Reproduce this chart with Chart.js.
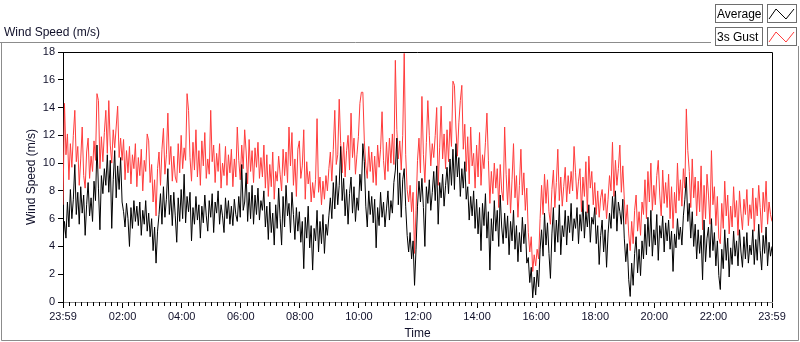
<!DOCTYPE html>
<html><head><meta charset="utf-8">
<script src="https://cdn.jsdelivr.net/npm/chart.js@4.4.0/dist/chart.umd.min.js"></script>
<style>html,body{margin:0;padding:0;background:#fff;overflow:hidden}canvas{display:block}</style>
</head><body>
<canvas id="c" width="800" height="342"></canvas>
<script>
// sampling interval of the series (minutes after 23:59)
const STEP_MIN = 3;

const average = [
4.3,5.8,4.6,7.2,5.4,8.1,6.0,7.4,9.9,6.3,
7.9,5.6,8.3,6.4,7.7,4.8,7.0,8.6,6.2,7.5,
5.8,8.7,7.3,11.3,8.2,5.2,9.1,7.8,9.6,8.4,
10.6,7.9,10.2,5.3,8.8,10.9,7.5,9.8,8.1,10.4,
7.2,6.5,5.4,7.1,6.0,4.0,6.8,5.3,7.3,5.8,
6.9,5.5,7.2,4.8,6.6,5.6,7.3,5.1,6.4,4.7,
6.0,3.7,5.4,2.8,5.1,6.3,7.8,5.6,8.3,6.1,
7.4,9.6,6.3,7.7,5.5,7.9,6.2,4.3,7.5,5.8,
8.1,6.0,9.2,5.7,7.6,6.5,7.9,4.4,6.8,5.6,
7.6,5.9,7.0,4.6,6.9,5.7,7.7,6.2,5.1,7.3,
6.1,7.8,5.0,7.2,6.4,8.0,5.6,7.0,6.2,5.0,
7.5,6.0,7.3,5.6,6.9,5.5,7.4,6.3,5.8,7.6,
6.1,9.9,6.6,7.2,9.3,5.8,7.9,6.0,8.4,5.6,
7.7,6.3,8.2,5.9,7.3,6.6,8.0,5.4,6.9,4.5,
7.2,5.0,6.4,4.1,7.0,5.3,8.2,6.0,4.1,7.6,
5.4,8.4,6.2,7.1,5.0,7.9,6.3,4.5,6.8,5.1,
6.5,4.3,5.8,2.4,6.1,4.6,6.9,3.9,5.5,2.3,
5.3,4.4,6.6,3.6,5.8,4.2,6.3,3.5,5.6,4.8,
6.2,7.5,6.0,8.6,6.7,9.1,7.0,8.4,11.2,7.3,
8.9,6.2,8.1,5.6,7.8,9.0,6.4,8.3,5.8,7.5,
6.6,9.2,8.0,11.4,10.1,6.9,5.4,8.0,6.3,7.6,
5.7,7.4,3.9,6.8,5.5,7.9,6.1,7.2,5.4,6.7,
8.0,5.9,7.3,6.4,8.6,9.5,11.8,7.0,9.3,6.1,
8.8,9.6,6.9,4.8,3.6,5.0,3.1,4.4,1.2,3.8,
6.9,8.7,7.2,8.9,6.8,4.0,8.3,7.1,8.8,6.6,
7.9,9.4,7.3,9.8,5.6,8.6,7.5,9.2,6.9,8.4,
9.7,7.8,10.3,8.4,11.0,8.1,11.4,9.0,10.4,7.6,
9.6,8.2,10.1,7.4,8.3,5.9,7.6,6.2,8.0,5.3,
7.4,4.9,6.8,3.7,7.1,5.5,7.8,4.6,6.5,2.3,
6.0,4.4,7.3,5.1,6.6,4.0,7.7,5.4,4.2,6.4,
4.6,6.2,3.4,5.8,4.4,6.6,3.8,5.5,2.9,5.0,
3.6,6.1,4.2,5.6,2.8,3.2,1.4,2.5,0.3,1.8,
0.5,2.3,1.1,3.8,5.2,3.3,6.4,4.1,5.7,3.5,
1.7,4.9,6.8,3.6,5.9,4.3,7.0,3.4,5.5,4.7,
6.6,4.1,6.2,5.0,7.1,4.4,6.0,5.3,6.8,4.2,
6.3,5.1,7.3,4.6,6.5,5.4,7.0,4.3,6.1,5.6,
6.8,4.2,5.5,2.7,4.8,5.9,3.6,5.2,2.5,4.9,
6.4,5.3,7.6,6.0,8.0,5.1,7.2,6.5,5.6,7.4,
4.6,2.9,4.2,1.6,0.4,2.8,1.2,3.5,4.7,2.1,
3.8,1.9,4.4,3.1,5.6,3.4,6.1,4.0,6.6,3.3,
5.2,4.1,6.3,3.0,5.5,4.6,6.2,3.6,5.7,4.4,
5.9,3.8,5.1,2.2,4.9,3.9,6.0,4.5,5.4,4.1,
6.2,7.4,9.0,5.8,7.1,4.6,6.5,4.0,5.6,3.1,
5.2,3.5,4.8,1.6,5.9,2.9,4.6,5.4,3.2,6.0,
3.7,5.0,2.6,4.4,1.9,0.9,3.8,2.4,5.2,3.0,
4.6,1.8,3.9,2.7,5.1,3.3,4.4,2.6,5.2,3.6,
2.5,4.7,3.1,5.0,2.8,4.1,3.4,5.2,2.7,4.5,
3.0,5.6,3.7,2.3,4.8,3.5,5.4,2.6,4.3,3.3,4.0
];

const gust = [
7.0,14.3,10.6,12.1,8.8,11.4,9.7,12.0,13.8,10.1,
11.2,8.4,10.3,12.6,9.1,8.2,10.8,11.8,8.9,10.5,
9.4,11.6,10.2,15.0,14.5,9.6,11.9,10.1,12.2,13.8,
10.7,14.5,11.3,10.0,12.4,11.1,12.6,14.1,10.4,11.8,
10.2,11.7,8.8,10.9,9.3,11.2,8.5,10.6,9.6,11.4,
8.3,10.4,9.1,11.0,8.0,10.2,9.4,12.1,11.6,8.6,
9.9,7.2,8.8,6.2,9.6,10.8,8.4,11.0,12.5,9.2,
10.6,13.6,9.9,11.2,8.7,10.5,9.0,8.6,11.4,9.3,
12.0,9.6,11.1,10.2,15.0,13.8,10.4,8.7,11.5,9.5,
12.4,9.0,10.9,8.4,11.6,9.8,12.2,8.9,10.3,9.2,
13.8,10.1,11.3,8.6,10.7,9.4,11.4,8.2,10.0,9.1,
11.2,8.4,10.6,9.3,11.0,8.3,10.3,9.0,12.6,10.2,
8.8,11.3,9.6,12.4,10.8,8.5,11.7,9.4,10.9,8.6,
11.1,9.7,11.5,8.9,10.4,9.0,11.3,8.2,10.6,7.6,
9.9,8.3,10.8,7.4,9.4,8.7,10.5,9.2,8.0,11.0,
9.1,10.8,8.6,12.6,9.8,12.2,8.4,10.3,7.6,11.0,
11.6,8.9,9.8,12.4,7.4,10.1,8.5,9.4,7.2,8.6,
7.5,8.8,13.2,7.9,9.0,7.0,8.7,7.4,9.1,8.0,
9.6,10.8,8.7,11.0,13.8,9.9,10.6,14.6,11.4,9.3,
11.5,9.0,10.9,12.0,9.5,13.6,10.4,11.8,9.2,10.6,
11.9,14.3,15.1,15.1,11.6,9.8,8.9,11.2,9.4,10.8,
8.6,10.5,8.4,11.3,9.7,11.0,13.7,10.2,8.8,11.5,
9.4,11.8,10.0,12.1,9.9,17.4,12.4,10.3,11.6,9.5,
12.0,17.9,10.6,8.1,7.2,8.4,6.5,7.9,3.5,6.6,
10.2,11.8,9.3,14.8,10.6,8.6,11.5,14.5,12.0,9.8,
11.4,10.4,12.0,14.0,8.4,11.1,14.1,10.3,12.1,9.6,
12.4,10.1,13.0,11.2,15.9,15.6,12.6,10.5,12.9,14.5,
15.6,11.0,12.8,9.4,11.9,8.5,12.6,9.8,10.7,8.2,
11.3,9.0,12.2,8.4,10.6,9.6,11.5,13.6,10.2,7.1,
9.4,7.8,10.0,8.2,9.6,6.8,9.9,8.0,7.3,12.6,
9.2,7.0,9.6,6.4,8.8,11.4,7.5,9.1,6.1,8.4,
11.0,7.7,9.3,6.6,8.2,5.0,3.6,4.7,2.2,3.4,
2.6,3.8,3.1,6.0,8.4,6.3,9.2,7.1,8.8,6.5,
5.6,8.1,9.5,6.8,8.6,11.0,7.3,9.0,6.9,8.3,
9.7,7.2,9.1,7.8,9.4,8.0,11.2,9.3,7.4,8.7,
9.6,6.5,9.0,7.6,10.1,6.4,10.5,8.2,9.4,7.0,
8.6,6.3,8.0,6.1,7.5,8.1,6.6,7.8,6.0,7.4,
9.1,8.0,11.5,7.6,10.2,8.4,9.6,11.3,7.9,9.8,
7.4,5.6,7.0,4.9,3.7,5.8,4.2,6.6,7.7,5.1,
6.5,4.8,7.2,6.3,8.8,6.0,9.4,7.2,10.0,6.6,
8.4,7.0,9.1,10.2,7.7,6.2,9.5,7.1,8.6,6.8,
9.2,6.0,8.3,5.3,7.9,6.4,10.0,7.3,8.8,6.9,
9.6,8.2,13.9,10.9,9.4,6.8,10.3,7.5,9.0,6.2,
8.7,6.5,9.8,5.2,8.4,6.0,9.2,7.7,5.6,10.9,
7.0,8.3,5.5,7.6,4.6,4.2,7.1,5.3,8.7,6.2,
7.7,4.9,6.9,5.4,8.3,6.1,7.3,4.8,8.0,6.4,
5.2,7.4,6.3,8.1,5.5,7.0,6.0,8.2,5.1,7.5,
6.2,8.4,6.8,5.0,7.9,6.5,8.7,5.6,7.2,6.3,5.8
];

const tickMinutes = [0,121,241,361,481,601,721,841,961,1081,1201,1321,1440];
const tickLabels = ['23:59','02:00','04:00','06:00','08:00','10:00','12:00','14:00','16:00','18:00','20:00','22:00','23:59'];
const minorTickMinutes = 12;
const yMin = 0, yMax = 18, yStep = 2;
const seriesNames = ['Average','3s Gust'];
const seriesColors = ['#000000','#ff3c3c'];

const TXT = '#10102a';
const FONT = '"Liberation Sans", Arial, sans-serif';

function toPoints(arr){ return arr.map((v,i)=>({x:i*STEP_MIN, y:v})); }

const framePlugin = {
  id:'frame',
  beforeDraw(chart){
    const ctx = chart.ctx;
    ctx.save();
    ctx.fillStyle='#fff'; ctx.fillRect(0,0,800,342);
    ctx.strokeStyle='#8c8c8c'; ctx.lineWidth=1;
    ctx.beginPath();
    ctx.moveTo(0,42.5); ctx.lineTo(711,42.5);
    ctx.moveTo(1.5,42); ctx.lineTo(1.5,340.5); ctx.lineTo(798.5,340.5); ctx.lineTo(798.5,46);
    ctx.stroke();
    ctx.fillStyle=TXT; ctx.font='12px '+FONT; ctx.textBaseline='alphabetic'; ctx.textAlign='left';
    ctx.fillText('Wind Speed (m/s)',4,36);
    // legend
    chart.data.datasets.forEach((ds,k)=>{
      const y0 = 4 + k*23;
      ctx.strokeStyle='#6e6e6e';
      ctx.strokeRect(715.5,y0+0.5,47,18);
      ctx.strokeRect(767.5,y0+0.5,29,18);
      ctx.fillStyle='#000'; ctx.font='12px '+FONT;
      ctx.fillText(ds.label,717,y0+14);
      ctx.strokeStyle=ds.borderColor; ctx.beginPath();
      ctx.moveTo(769,y0+15); ctx.lineTo(776,y0+5); ctx.lineTo(786,y0+15); ctx.lineTo(794,y0+5);
      ctx.stroke();
    });
    ctx.restore();
  },
  afterDraw(chart){
    const ctx=chart.ctx, a=chart.chartArea, xs=chart.scales.x;
    ctx.save();
    ctx.strokeStyle='#000'; ctx.lineWidth=1;
    ctx.beginPath();
    ctx.moveTo(a.left, a.top+0.5); ctx.lineTo(a.right+0.5, a.top+0.5); ctx.lineTo(a.right+0.5, a.bottom);
    ctx.stroke();
    // minor ticks
    ctx.beginPath();
    for(let t=1+minorTickMinutes; t<xs.max; t+=minorTickMinutes){
      if(tickMinutes.includes(t)) continue;
      const px=Math.round(xs.getPixelForValue(t))+0.5;
      ctx.moveTo(px,a.bottom); ctx.lineTo(px,a.bottom+4);
    }
    ctx.stroke();
    ctx.restore();
  }
};

new Chart(document.getElementById('c'),{
  type:'line',
  data:{datasets:[
    {label:seriesNames[0], data:toPoints(average), borderColor:seriesColors[0], borderWidth:1, pointRadius:0, tension:0},
    {label:seriesNames[1], data:toPoints(gust), borderColor:seriesColors[1], borderWidth:1, pointRadius:0, tension:0}
  ]},
  options:{
    responsive:false, animation:false, devicePixelRatio:1,
    layout:{padding:{left:0,top:52,right:28,bottom:0}},
    plugins:{legend:{display:false}, tooltip:{enabled:false}},
    scales:{
      x:{type:'linear', min:0, max:1440,
        afterBuildTicks:s=>{ s.ticks = tickMinutes.map(v=>({value:v})); },
        afterFit:s=>{ s.height=40; },
        ticks:{autoSkip:false, maxRotation:0, padding:2, color:TXT, font:{family:FONT,size:11},
          callback:(v,i)=>tickLabels[i]},
        grid:{drawOnChartArea:false, drawTicks:true, tickLength:6, tickColor:'#000', color:'#000'},
        border:{display:true, color:'#8c8c8c'},
        title:{display:true, text:'Time', color:TXT, font:{family:FONT,size:12}, padding:{top:0,bottom:1}}
      },
      y:{type:'linear', min:yMin, max:yMax,
        afterFit:s=>{ s.width=63; },
        ticks:{stepSize:yStep, padding:3, color:TXT, font:{family:FONT,size:11}},
        grid:{drawOnChartArea:false, drawTicks:true, tickLength:5, tickColor:'#000', color:'#000'},
        border:{display:true, color:'#000'},
        title:{display:true, text:'Wind Speed (m/s)', color:TXT, font:{family:FONT,size:12}, padding:{top:24,bottom:0}}
      }
    }
  },
  plugins:[framePlugin]
});
</script>
</body></html>
